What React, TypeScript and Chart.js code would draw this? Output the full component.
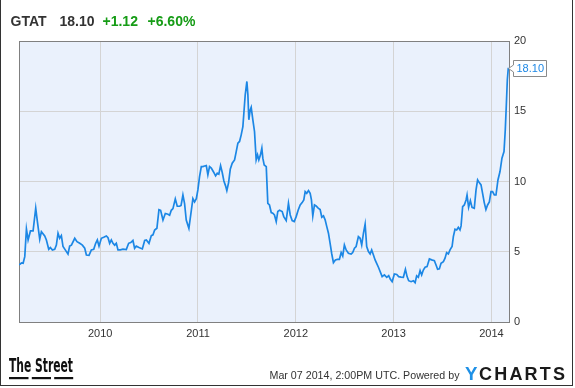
import React, { useEffect, useRef } from "react";
import { Chart, registerables } from "chart.js";

Chart.register(...registerables);

const ticker = "GTAT";
const lastPrice = "18.10";
const change = "+1.12";
const changePct = "+6.60%";
const stamp = "Mar 07 2014, 2:00PM UTC. Powered by";

const tickYears = [2010, 2011, 2012, 2013, 2014];

const dates2009 = [2009.171, 2009.195, 2009.212, 2009.229, 2009.246, 2009.263, 2009.287, 2009.314, 2009.341, 2009.358, 2009.382, 2009.399, 2009.433, 2009.45, 2009.474, 2009.491, 2009.511, 2009.535, 2009.552, 2009.569, 2009.586, 2009.603, 2009.62, 2009.648, 2009.671, 2009.688, 2009.706, 2009.74, 2009.763, 2009.791, 2009.818, 2009.842, 2009.859, 2009.886, 2009.91, 2009.934, 2009.954, 2009.971, 2009.988];
const prices2009 = [4.06, 4.2, 4.18, 4.65, 6.62, 5.84, 6.48, 6.48, 8.1, 7.15, 5.89, 6.43, 6.12, 5.84, 5.18, 5.3, 5.13, 5.18, 5.47, 6.32, 5.96, 6.15, 5.37, 5.08, 4.84, 5.4, 5.47, 5.96, 5.72, 5.6, 5.47, 5.25, 4.77, 4.75, 5.13, 5.18, 5.6, 5.84, 5.4];

const dates2010 = [2010.012, 2010.036, 2010.063, 2010.08, 2010.097, 2010.114, 2010.131, 2010.148, 2010.165, 2010.182, 2010.206, 2010.233, 2010.267, 2010.291, 2010.312, 2010.335, 2010.352, 2010.369, 2010.397, 2010.431, 2010.455, 2010.472, 2010.499, 2010.523, 2010.54, 2010.557, 2010.58, 2010.601, 2010.618, 2010.642, 2010.666, 2010.693, 2010.71, 2010.727, 2010.744, 2010.768, 2010.788, 2010.812, 2010.827, 2010.846, 2010.863, 2010.88, 2010.907, 2010.932, 2010.948, 2010.965, 2010.983, 2010.999];
const prices2010 = [5.96, 6.03, 6.12, 6.0, 5.6, 5.84, 5.6, 5.47, 5.6, 5.13, 5.13, 5.18, 5.15, 5.6, 5.65, 5.8, 5.25, 5.4, 5.3, 5.2, 5.8, 5.84, 5.6, 6.15, 6.2, 6.55, 6.67, 7.99, 7.95, 7.26, 7.72, 7.67, 7.6, 7.95, 8.07, 8.76, 8.24, 8.24, 8.3, 9.04, 8.43, 7.26, 6.67, 7.95, 8.78, 8.55, 8.78, 9.4];

const dates2011 = [2011.016, 2011.034, 2011.05, 2011.067, 2011.085, 2011.101, 2011.118, 2011.136, 2011.159, 2011.18, 2011.197, 2011.213, 2011.231, 2011.248, 2011.265, 2011.282, 2011.295, 2011.313, 2011.33, 2011.35, 2011.374, 2011.391, 2011.408, 2011.425, 2011.442, 2011.459, 2011.469, 2011.483, 2011.5, 2011.51, 2011.52, 2011.534, 2011.544, 2011.561, 2011.578, 2011.595, 2011.609, 2011.622, 2011.639, 2011.653, 2011.663, 2011.677, 2011.698, 2011.714, 2011.731, 2011.749, 2011.765, 2011.782, 2011.8, 2011.816, 2011.834, 2011.861, 2011.877, 2011.902, 2011.925, 2011.943, 2011.963, 2011.984];
const prices2011 = [10.35, 11.06, 11.06, 11.1, 11.13, 10.47, 11.06, 10.95, 10.68, 10.4, 10.59, 10.52, 11.13, 10.64, 10.04, 9.69, 9.35, 9.92, 10.87, 11.3, 11.54, 12.13, 12.73, 12.85, 13.32, 13.91, 14.86, 16.17, 17.12, 16.2, 14.39, 15.1, 15.29, 14.39, 13.56, 11.54, 11.9, 11.54, 11.9, 12.37, 11.66, 11.18, 11.06, 8.45, 8.33, 7.79, 7.74, 7.62, 7.15, 7.86, 7.95, 7.86, 7.5, 7.22, 8.45, 7.62, 7.22, 7.15];

const dates2012 = [2012.004, 2012.024, 2012.045, 2012.065, 2012.082, 2012.096, 2012.112, 2012.13, 2012.147, 2012.16, 2012.174, 2012.191, 2012.208, 2012.229, 2012.249, 2012.266, 2012.283, 2012.3, 2012.317, 2012.334, 2012.351, 2012.368, 2012.385, 2012.405, 2012.426, 2012.446, 2012.464, 2012.48, 2012.497, 2012.515, 2012.538, 2012.566, 2012.582, 2012.6, 2012.617, 2012.64, 2012.658, 2012.674, 2012.692, 2012.709, 2012.725, 2012.743, 2012.76, 2012.776, 2012.794, 2012.811, 2012.827, 2012.845, 2012.883, 2012.906, 2012.93, 2012.95, 2012.967, 2012.985];
const prices2012 = [7.5, 7.95, 8.33, 8.5, 8.69, 9.28, 9.16, 9.35, 9.16, 8.69, 7.55, 8.33, 8.26, 8.1, 8.0, 7.46, 7.55, 7.27, 6.79, 6.32, 5.6, 4.84, 4.23, 4.42, 4.46, 4.46, 4.94, 4.7, 5.48, 5.13, 4.89, 4.84, 4.94, 5.25, 5.37, 6.08, 5.96, 5.48, 6.32, 6.96, 5.37, 5.01, 4.84, 5.13, 4.77, 4.42, 4.18, 3.9, 3.23, 3.35, 3.18, 3.3, 3.04, 2.87];

const dates2013 = [2013.008, 2013.032, 2013.052, 2013.077, 2013.1, 2013.121, 2013.138, 2013.154, 2013.179, 2013.202, 2013.22, 2013.236, 2013.253, 2013.271, 2013.287, 2013.304, 2013.322, 2013.342, 2013.366, 2013.389, 2013.417, 2013.434, 2013.45, 2013.468, 2013.485, 2013.509, 2013.526, 2013.542, 2013.56, 2013.577, 2013.598, 2013.611, 2013.628, 2013.645, 2013.662, 2013.679, 2013.69, 2013.706, 2013.723, 2013.741, 2013.751, 2013.767, 2013.785, 2013.802, 2013.825, 2013.843, 2013.859, 2013.876, 2013.894, 2013.91, 2013.927, 2013.944, 2013.961, 2013.979, 2013.996];
const prices2013 = [3.42, 3.38, 3.23, 3.2, 3.18, 3.75, 3.23, 2.94, 2.87, 2.94, 2.8, 3.28, 3.18, 3.66, 3.35, 3.7, 3.9, 3.94, 4.49, 4.42, 4.37, 4.06, 3.75, 3.78, 4.18, 4.3, 4.54, 4.94, 4.84, 5.13, 5.37, 6.08, 6.6, 6.55, 6.74, 6.55, 6.84, 8.21, 8.33, 8.69, 9.04, 8.16, 8.64, 8.16, 8.1, 9.4, 10.11, 9.92, 9.76, 9.16, 8.5, 8.0, 8.33, 8.55, 9.28];

const dates2014 = [2014.012, 2014.03, 2014.047, 2014.067, 2014.088, 2014.108, 2014.129, 2014.142, 2014.152, 2014.163, 2014.173];
const prices2014 = [9.28, 9.04, 9.04, 10.11, 10.71, 11.66, 12.13, 13.68, 15.34, 17.24, 18.1];

const dates = [...dates2009, ...dates2010, ...dates2011, ...dates2012, ...dates2013, ...dates2014];
const prices = [...prices2009, ...prices2010, ...prices2011, ...prices2012, ...prices2013, ...prices2014];

const FONT = "'Liberation Sans', Arial, sans-serif";
const LINE = "#1c87e5";

const plotFrame = {
  id: "plotFrame",
  beforeDraw(chart: any) {
    const { ctx, chartArea: a } = chart;
    ctx.save();
    ctx.fillStyle = "#eaf1fc";
    ctx.fillRect(a.left, a.top, a.right - a.left, a.bottom - a.top);
    ctx.restore();
  },
  beforeDatasetsDraw(chart: any) {
    const { ctx, chartArea: a } = chart;
    ctx.save();
    ctx.strokeStyle = "#808080";
    ctx.lineWidth = 1;
    ctx.strokeRect(a.left + 0.5, a.top + 0.5, a.right - a.left, a.bottom - a.top);
    ctx.restore();
  },
};

const lastCallout = {
  id: "lastCallout",
  afterDatasetsDraw(chart: any) {
    const meta = chart.getDatasetMeta(0);
    const pt = meta.data[meta.data.length - 1];
    if (!pt) return;
    const { ctx } = chart;
    const tipX = Math.round(pt.x) + 0.5;
    const cy = Math.round(pt.y) + 0.5;
    const L = tipX + 5;
    const R = L + 33;
    const T = cy - 8;
    const B = cy + 8;
    ctx.save();
    ctx.beginPath();
    ctx.moveTo(L, T);
    ctx.lineTo(R, T);
    ctx.lineTo(R, B);
    ctx.lineTo(L, B);
    ctx.lineTo(L, cy + 3.5);
    ctx.lineTo(tipX, cy);
    ctx.lineTo(L, cy - 3.5);
    ctx.closePath();
    ctx.fillStyle = "#ffffff";
    ctx.fill();
    ctx.strokeStyle = "#8a8a8a";
    ctx.lineWidth = 1;
    ctx.stroke();
    ctx.fillStyle = LINE;
    ctx.font = `11px ${FONT}`;
    ctx.textBaseline = "middle";
    ctx.textAlign = "left";
    ctx.fillText(prices[prices.length - 1].toFixed(2), L + 3, cy + 0.5);
    ctx.restore();
  },
};

export default function App() {
  const ref = useRef<HTMLCanvasElement | null>(null);

  useEffect(() => {
    if (!ref.current) return;
    const chart = new Chart(ref.current, {
      type: "line",
      data: {
        datasets: [
          {
            data: dates.map((d, i) => ({ x: d, y: prices[i] })),
            borderColor: LINE,
            borderWidth: 1.7,
            pointRadius: 0,
            tension: 0,
            fill: false,
          },
        ],
      },
      options: {
        animation: false,
        responsive: false,
        devicePixelRatio: 1,
        layout: { padding: { left: 19, top: 41, right: 0, bottom: 0 } },
        plugins: { legend: { display: false }, tooltip: { enabled: false } },
        scales: {
          x: {
            type: "linear",
            min: 2009.17,
            max: 2014.18,
            afterBuildTicks: (s: any) => {
              s.ticks = tickYears.map((v) => ({ value: v }));
            },
            afterFit: (s: any) => {
              s.height = 66;
            },
            ticks: {
              autoSkip: false,
              maxRotation: 0,
              padding: 5,
              color: "#333333",
              font: { family: FONT, size: 11 },
              callback: (v: any) => String(v),
            },
            grid: { color: "#d4d4d4", drawTicks: false, lineWidth: 1 },
            border: { display: false },
          },
          y: {
            position: "right",
            min: 0,
            max: 20,
            afterFit: (s: any) => {
              s.width = 66;
            },
            ticks: {
              stepSize: 5,
              padding: 5,
              color: "#333333",
              font: { family: FONT, size: 11 },
            },
            grid: { color: "#d4d4d4", drawTicks: false, lineWidth: 1 },
            border: { display: false },
          },
        },
      },
      plugins: [plotFrame, lastCallout],
    });
    return () => chart.destroy();
  }, []);

  return (
    <div
      style={{
        position: "fixed",
        left: 0,
        top: 0,
        width: 575,
        height: 388,
        background: "#ffffff",
        overflow: "hidden",
        fontFamily: FONT,
      }}
    >
      <canvas ref={ref} width={575} height={388} style={{ position: "absolute", left: 0, top: 0 }} />
      <div
        style={{
          position: "absolute",
          left: 0,
          top: -2,
          width: 571,
          height: 387,
          borderLeft: "1px solid #333",
          borderRight: "1px solid #333",
          borderBottom: "1px solid #333",
          pointerEvents: "none",
        }}
      />
      <svg width={575} height={388} style={{ position: "absolute", left: 0, top: 0, pointerEvents: "none" }}>
        <g fontFamily={FONT} fontWeight="bold" fontSize={14}>
          <text x={10.5} y={26} fill="#333333">{ticker}</text>
          <text x={59.5} y={26} fill="#333333">{lastPrice}</text>
          <text x={102.5} y={26} fill="#169c16">{change}</text>
          <text x={147.5} y={26} fill="#169c16">{changePct}</text>
        </g>
        <text
          x={9}
          y={372}
          textLength={64}
          lengthAdjust="spacingAndGlyphs"
          fontFamily="'Liberation Sans Narrow', 'DejaVu Sans Condensed', 'Liberation Sans', sans-serif"
          fontWeight="bold"
          fontSize={19}
          fill="#111111"
        >
          The Street
        </text>
        <rect x={9} y={377} width={19.5} height={2.2} fill="#111111" />
        <rect x={31.8} y={377} width={19.2} height={2.2} fill="#111111" />
        <rect x={54.2} y={377} width={19} height={2.2} fill="#111111" />
        <text
          x={269.5}
          y={378.5}
          textLength={190}
          lengthAdjust="spacingAndGlyphs"
          fontFamily={FONT}
          fontSize={11}
          fill="#333333"
        >
          {stamp}
        </text>
        <text x={465} y={380} fontFamily={FONT} fontWeight="bold" fontSize={18} fill="#1e90e6" textLength={12.5} lengthAdjust="spacingAndGlyphs">
          Y
        </text>
        <text x={479} y={380} fontFamily={FONT} fontWeight="bold" fontSize={18} fill="#1a1a1a" textLength={86} lengthAdjust="spacing">
          CHARTS
        </text>
      </svg>
    </div>
  );
}
